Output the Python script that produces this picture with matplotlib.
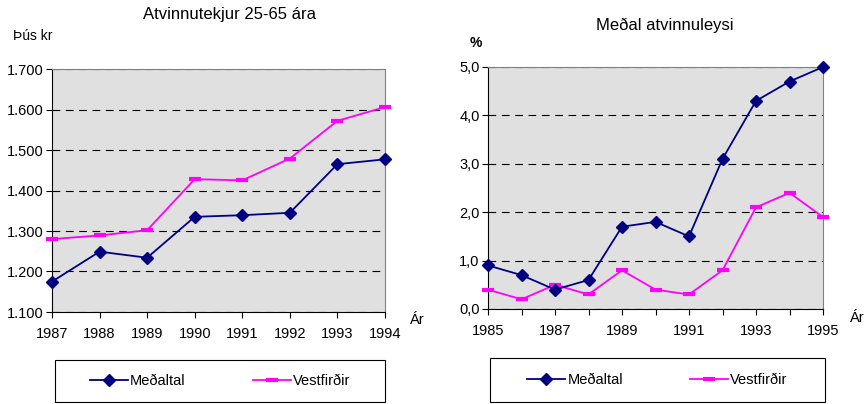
import matplotlib.pyplot as plt
from matplotlib.patches import Rectangle
from matplotlib.ticker import FuncFormatter

plt.rcParams['font.family'] = ['Liberation Sans', 'DejaVu Sans']

# Atvinnutekjur 25-65 ára (þús kr)
ar_tekjur = [1987, 1988, 1989, 1990, 1991, 1992, 1993, 1994]
tekjur_medaltal = [1175, 1249, 1234, 1335, 1339, 1345, 1465, 1477]
tekjur_vestfirdir = [1280, 1289, 1302, 1428, 1425, 1479, 1572, 1606]

# Meðal atvinnuleysi (%)
ar_atv = [1985, 1986, 1987, 1988, 1989, 1990, 1991, 1992, 1993, 1994, 1995]
atv_medaltal = [0.9, 0.7, 0.4, 0.6, 1.7, 1.8, 1.5, 3.1, 4.3, 4.7, 5.0]
atv_vestfirdir = [0.4, 0.2, 0.5, 0.3, 0.8, 0.4, 0.3, 0.8, 2.1, 2.4, 1.9]

navy = '#000080'
magenta = '#ff00ff'

fig = plt.figure(figsize=(8.67, 4.04), dpi=100)
W, H = 867, 404


def box(x0, y0, x1, y1):
    return [x0 / W, 1 - y1 / H, (x1 - x0) / W, (y1 - y0) / H]


def style(ax):
    ax.set_facecolor('#e0e0e0')
    for s in ['top', 'right']:
        ax.spines[s].set_color('#808080')
    for s in ['left', 'bottom']:
        ax.spines[s].set_color('black')
    ax.tick_params(direction='out', length=4, width=0.8, colors='black', labelsize=10.5)
    ax.tick_params(axis='y', pad=2)
    ax.tick_params(axis='x', pad=7, labelsize=10.5)
    ax.yaxis.grid(True, linestyle=(0, (7, 5)), color='black', linewidth=0.8)
    ax.set_axisbelow(True)


def draw(ax, x, y1, y2):
    ax.plot(x, y1, color=navy, marker='D', markersize=6.5, linewidth=1.3,
            clip_on=False, zorder=4, label='Meðaltal')
    ax.plot(x, y2, color=magenta, marker='_', markersize=8, markeredgewidth=3,
            linewidth=1.3, clip_on=False, zorder=3, label='Vestfirðir')


# vinstri mynd
ax1 = fig.add_axes(box(52, 69, 385, 312))
style(ax1)
draw(ax1, ar_tekjur, tekjur_medaltal, tekjur_vestfirdir)
ax1.set_xlim(1987, 1994)
ax1.set_ylim(1100, 1700)
ax1.set_xticks(ar_tekjur)
ax1.set_yticks(range(1100, 1701, 100))
ax1.yaxis.set_major_formatter(FuncFormatter(lambda v, p: f'{v / 1000:.3f}'))
fig.text(230 / W, 1 - 15 / H, 'Atvinnutekjur 25-65 ára', fontsize=12, ha='center', va='center')
fig.text(13 / W, 1 - 36 / H, 'Þús kr', fontsize=10, va='center')
fig.text(410 / W, 1 - 320 / H, 'Ár', fontsize=10.5, va='center')

# hægri mynd
ax2 = fig.add_axes(box(488, 67, 823, 309))
style(ax2)
draw(ax2, ar_atv, atv_medaltal, atv_vestfirdir)
ax2.set_xlim(1985, 1995)
ax2.set_ylim(0, 5)
ax2.set_xticks(ar_atv)
ax2.set_xticklabels([str(a) if a % 2 == 1 else '' for a in ar_atv])
ax2.set_yticks([0, 1, 2, 3, 4, 5])
ax2.yaxis.set_major_formatter(FuncFormatter(lambda v, p: f'{v:.1f}'.replace('.', ',')))
fig.text(665 / W, 1 - 25 / H, 'Meðal atvinnuleysi', fontsize=12, ha='center', va='center')
fig.text(470 / W, 1 - 43 / H, '%', fontsize=10, fontweight='bold', va='center')
fig.text(850 / W, 1 - 318 / H, 'Ár', fontsize=10.5, va='center')

# skýringar
for (x0, y0, x1, y1), ax in [((55, 360, 385, 402), ax1), ((490, 358, 825, 402), ax2)]:
    b = box(x0, y0, x1, y1)
    fig.patches.append(Rectangle((b[0], b[1]), b[2], b[3], transform=fig.transFigure,
                                 facecolor='white', edgecolor='black', linewidth=0.8))
    h, l = ax.get_legend_handles_labels()
    fig.legend(h, l, loc='center', bbox_to_anchor=(b[0] + b[2] / 2, b[1] + b[3] / 2),
               ncol=2, frameon=False, fontsize=10.5, columnspacing=4.6,
               handlelength=2.6, handletextpad=0.15, borderaxespad=0)

fig.savefig('out.png', dpi=100)
